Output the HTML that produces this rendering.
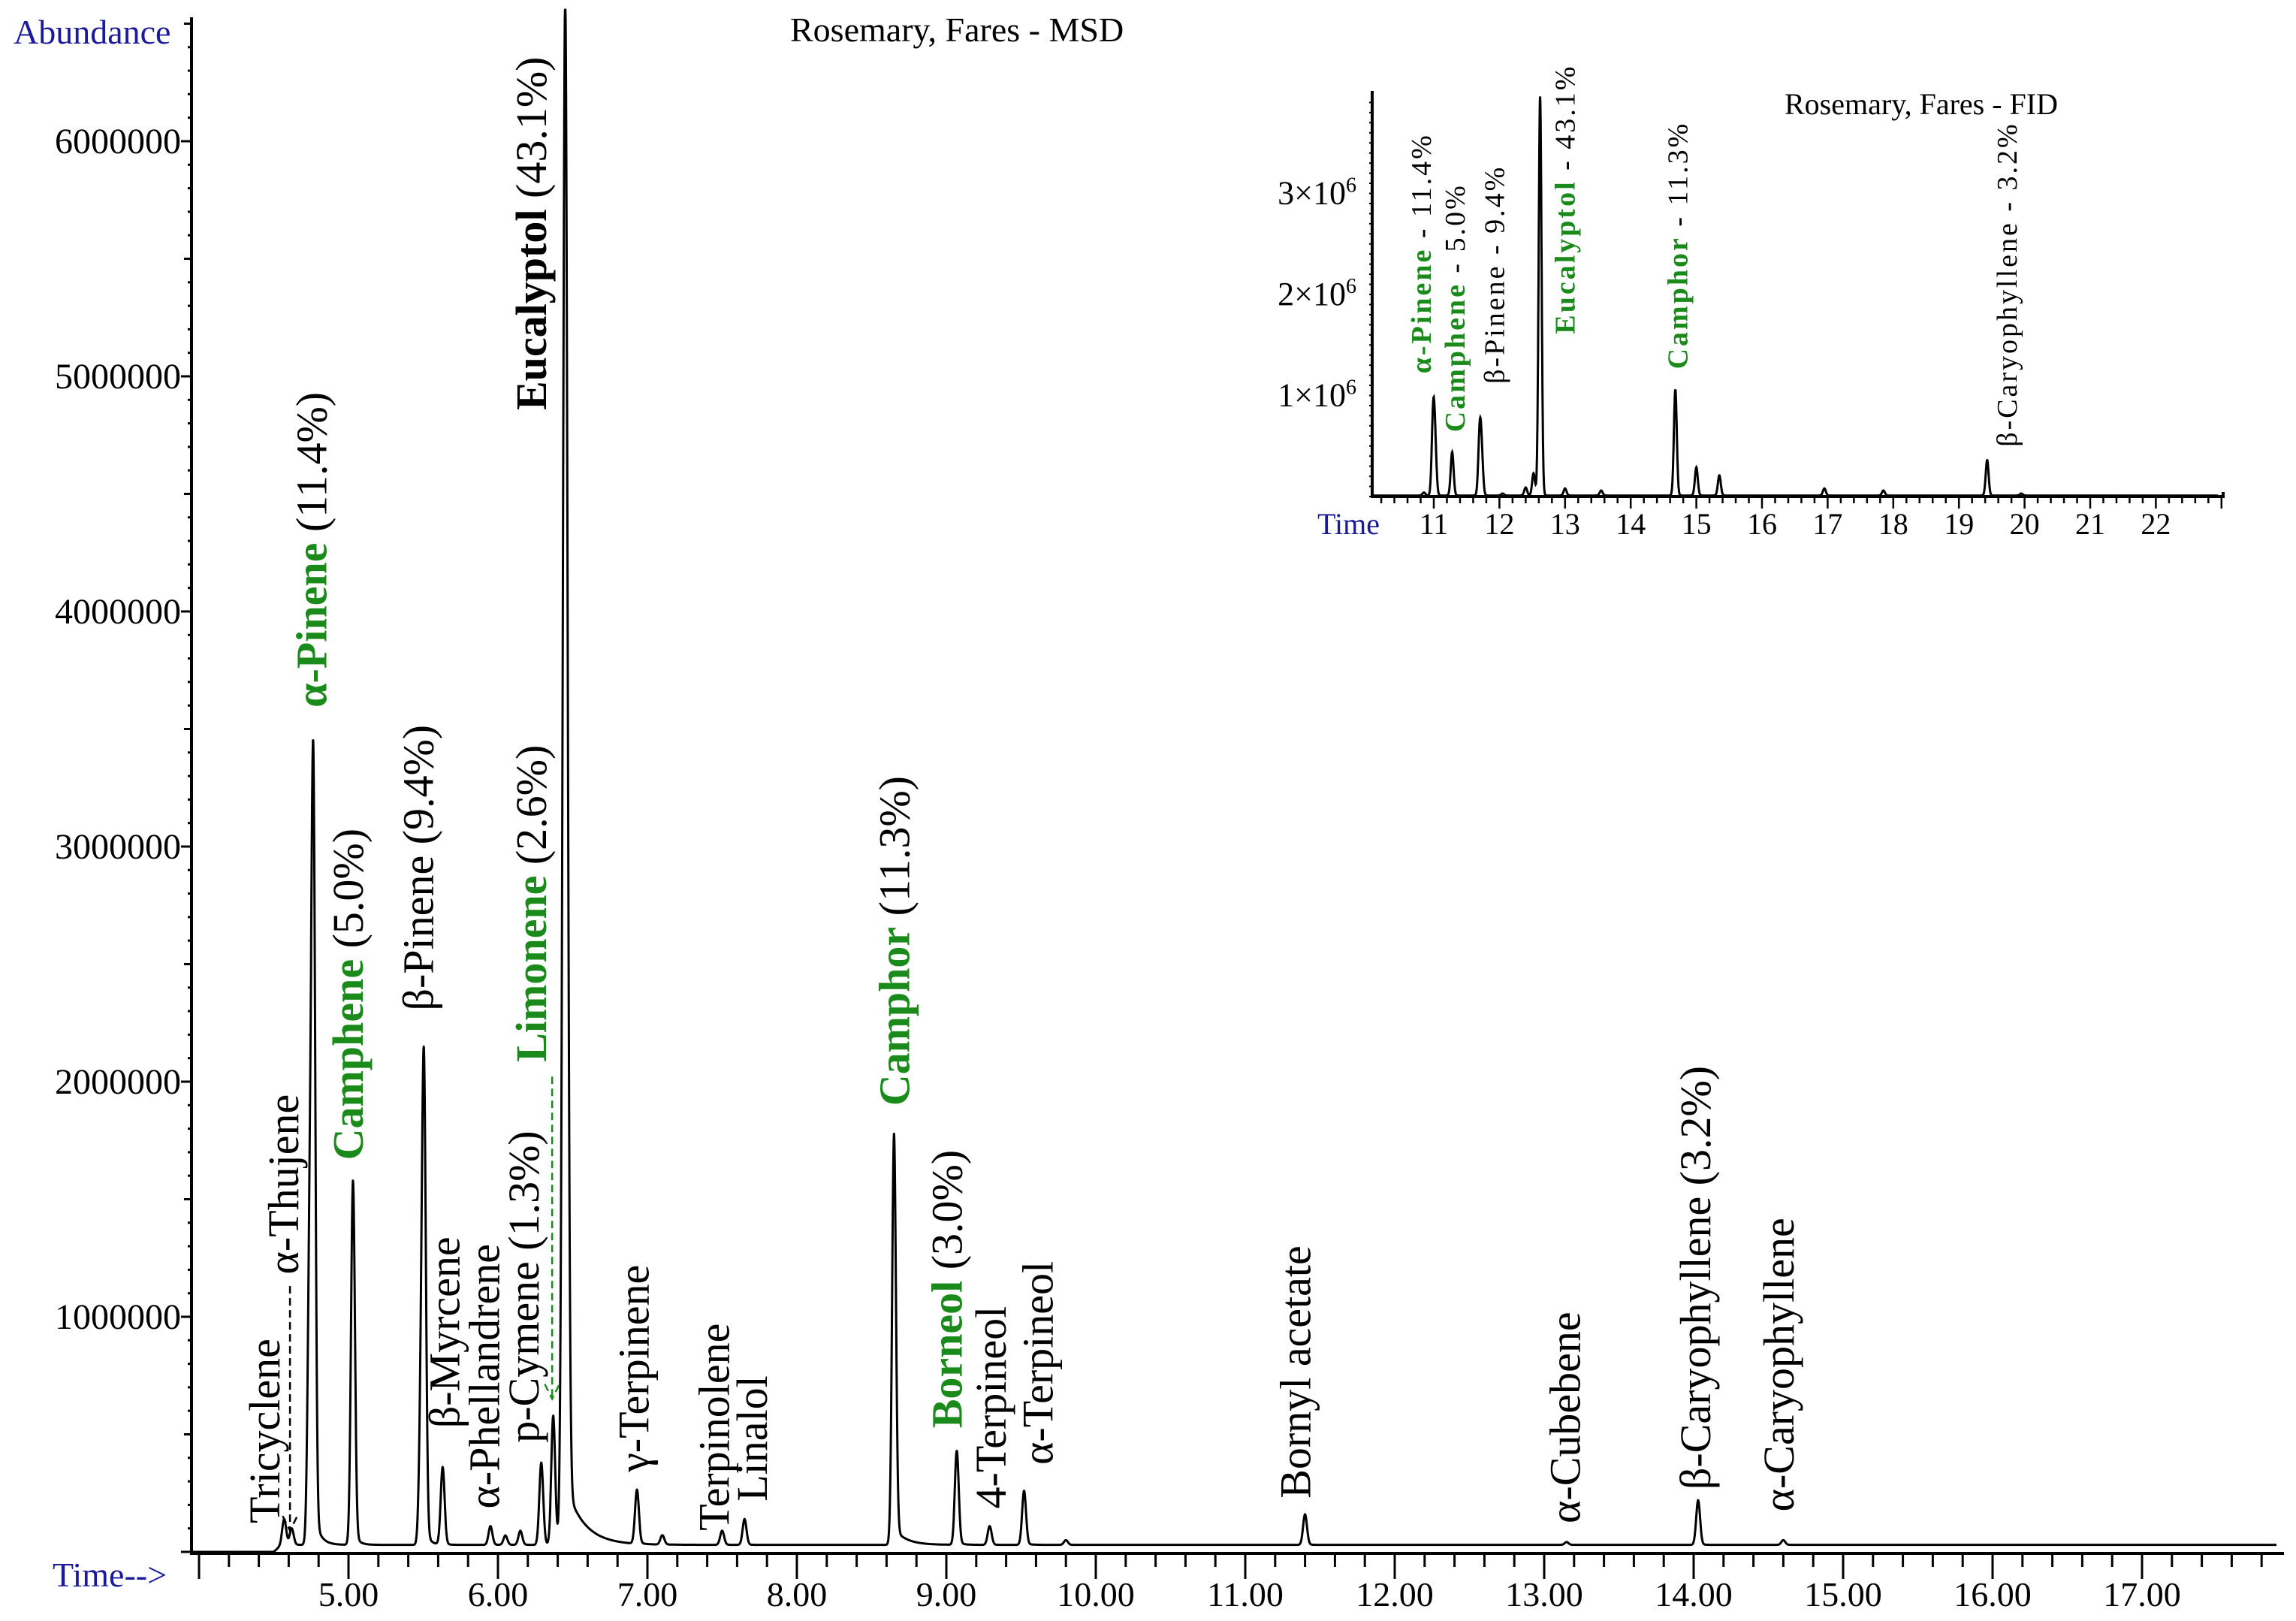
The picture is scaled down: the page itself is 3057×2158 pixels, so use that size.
<!DOCTYPE html>
<html><head><meta charset="utf-8"><style>
html,body{margin:0;padding:0;background:#fff;}
svg{display:block;font-family:"Liberation Serif",serif;}
</style></head><body>
<svg id="chart" width="3057" height="2158" viewBox="0 0 3057 2158" xmlns="http://www.w3.org/2000/svg">
<g id="main"></g>
<g id="inset"></g>
</svg>
<script>
// ---- main MSD chromatogram data ----
const peakTimes   = [4.57,4.62,4.74,4.765,5.03,5.485,5.505,5.63,5.95,6.05,6.15,6.29,6.37,6.45,6.93,7.10,7.50,7.65,8.65,9.07,9.29,9.52,9.80,11.40,13.15,14.03,14.60];
const peakHeights = [0.11,0.07,1.2,3.2,1.55,0.5,1.95,0.33,0.08,0.04,0.06,0.35,0.55,6.60,0.23,0.04,0.06,0.11,1.75,0.40,0.08,0.23,0.02,0.13,0.012,0.19,0.02]; // millions
const peakTails   = [0.02,0.02,0.03,0.04,0.03,0.02,0.03,0.02,0.02,0.02,0.02,0.02,0.02,0.12,0.03,0.05,0.02,0.02,0.08,0.03,0.02,0.03,0.02,0.02,0.02,0.02,0.02];
const yTicks = [1000000,2000000,3000000,4000000,5000000,6000000];
const xTicks = [5,6,7,8,9,10,11,12,13,14,15,16,17];
// ---- inset FID data ----
const fidTimes   = [10.85,10.99,11.02,11.28,11.70,11.73,12.05,12.40,12.52,12.62,13.00,13.55,14.68,15.00,15.35,16.95,17.85,19.43,19.95];
const fidHeights = [0.03,0.75,0.45,0.43,0.6,0.35,0.02,0.08,0.22,3.95,0.07,0.05,1.05,0.28,0.2,0.07,0.05,0.35,0.02];
const fidTicks = [11,12,13,14,15,16,17,18,19,20,21,22];
const fidYTicks = [1,2,3];

const NS="http://www.w3.org/2000/svg";
function mk(parent,tag,attrs,text){const e=document.createElementNS(NS,tag);for(const k in attrs)e.setAttribute(k,attrs[k]);if(text!==undefined)e.textContent=text;parent.appendChild(e);return e;}
const main=document.getElementById('main'), inset=document.getElementById('inset');

const X=t=>464+(t-5)*199, Y=v=>2066-v/1e6*313;
const xL=255,xR=3041,yT=23,yB=2066;
let e=mk(main,'path',{d:`M${xL},${yT}V${yB+2}H${xR}`,stroke:'#000','stroke-width':4,fill:'none'});


for(let v=0;v<=6500000;v+=100000){
  const big=v%1000000===0, mid=v%500000===0;
  mk(main,'line',{x1:xL-(big?14:mid?10:5),x2:xL,y1:Y(v),y2:Y(v),stroke:'#000','stroke-width':3});
}
yTicks.forEach(v=>{
  const t=mk(main,'text',{x:xL-14,y:Y(v)+16,'text-anchor':'end','font-size':48,fill:'#000'},String(v));
  
  
});
for(let i=0;;i++){const t=4.0+i*0.2;if(X(t)>xR)break;const big=Math.abs(t-Math.round(t))<1e-6;
  mk(main,'line',{x1:X(t),x2:X(t),y1:yB,y2:yB+(big?36:20),stroke:'#000','stroke-width':3});}
xTicks.forEach(v=>{
  const t=mk(main,'text',{x:X(v),y:2138,'text-anchor':'middle','font-size':46},v.toFixed(2));
  
  
});
e=mk(main,'text',{x:18,y:58,'font-size':46,fill:'#1a1a9a'},'Abundance');


e=mk(main,'text',{x:70,y:2112,'font-size':46,fill:'#1a1a9a'},'Time-->');


e=mk(main,'text',{x:1052,y:55,'font-size':46},'Rosemary, Fares - MSD');



function sig(t){
  let v = t<4.5?0:0.03*Math.min(1,(t-4.5)/0.05);
  for(let i=0;i<peakTimes.length;i++){
    const d=t-peakTimes[i], w=(i===13?0.016:0.013);
    if(d<0) v+=peakHeights[i]*Math.exp(-d*d/(2*w*w));
    else v+=peakHeights[i]*(0.96*Math.exp(-d*d/(2*w*w))+0.04*Math.exp(-d/peakTails[i]));
  }
  return v*1e6;
}
let d='';
for(let t=3.96;t<=17.9;t+=0.0015){const yy=Math.max(yT-10,Y(sig(t)));d+=(d?'L':'M')+X(t).toFixed(1)+','+yy.toFixed(1);}
e=mk(main,'path',{d:d,stroke:'#000','stroke-width':3,fill:'none','stroke-linejoin':'round'});



const S=1.95;
function vlabel(g,cx,bottom,parts,fs,name,ls){
  const t=mk(g,'text',{transform:`translate(${(cx*S+fs*0.36).toFixed(1)},${(bottom*S).toFixed(1)}) rotate(-90)`,'font-size':fs,'letter-spacing':ls||0});
  
  
  parts.forEach(p=>{mk(t,'tspan',{fill:p[1]||'#000','font-weight':p[2]?'bold':'normal'},p[0]);});
}
const G='#1a8a1a';
const F=58;
vlabel(main,180,1040,[['Tricyclene']],F,'label-tricyclene');
vlabel(main,193,870,[['α-Thujene']],F,'label-alpha-thujene');
vlabel(main,237,792,[['Camphene',G,1],[' (5.0%)']],F,'label-camphene');
vlabel(main,212,483,[['α-Pinene',G,1],[' (11.4%)']],F,'label-alpha-pinene');
vlabel(main,285,690,[['β-Pinene (9.4%)']],F,'label-beta-pinene');
vlabel(main,303,975,[['β-Myrcene']],F,'label-beta-myrcene');
vlabel(main,330,1030,[['α-Phellandrene']],F,'label-alpha-phellandrene');
vlabel(main,357,985,[['p-Cymene (1.3%)']],F,'label-p-cymene');
vlabel(main,362,725,[['Limonene',G,1],[' (2.6%)']],F,'label-limonene');
vlabel(main,362,280,[['Eucalyptol','#000',1],[' (43.1%)']],F,'label-eucalyptol');
vlabel(main,432,1005,[['γ-Terpinene']],F,'label-gamma-terpinene');
vlabel(main,487,1045,[['Terpinolene']],F,'label-terpinolene');
vlabel(main,513,1025,[['Linalol']],F,'label-linalol');
vlabel(main,610,755,[['Camphor',G,1],[' (11.3%)']],F,'label-camphor');
vlabel(main,646,975,[['Borneol',G,1],[' (3.0%)']],F,'label-borneol');
vlabel(main,676,1030,[['4-Terpineol']],F,'label-4-terpineol');
vlabel(main,708,1000,[['α-Terpineol']],F,'label-alpha-terpineol');
vlabel(main,884,1023,[['Bornyl acetate']],F,'label-bornyl-acetate');
vlabel(main,1068,1040,[['α-Cubebene']],F,'label-alpha-cubebene');
vlabel(main,1157,1017,[['β-Caryophyllene (3.2%)']],F,'label-beta-caryophyllene');
vlabel(main,1214,1032,[['α-Caryophyllene']],F,'label-alpha-caryophyllene');
e=mk(main,'path',{d:`M${198*S},${878*S}V${1045*S}M${193*S},${1035*S}L${198*S},${1045*S}L${203*S},${1035*S}`,stroke:'#000','stroke-width':2.5,'stroke-dasharray':'10,6',fill:'none'});


e=mk(main,'path',{d:`M${377*S},${735*S}V${955*S}M${372*S},${945*S}L${377*S},${955*S}L${382*S},${945*S}`,stroke:G,'stroke-width':2.5,'stroke-dasharray':'10,6',fill:'none'});



// ---- inset ----
const XI=t=>1909+(t-11)*87.4, YI=v=>661-v*134.5;
const iL=1827,iR=2960,iT=121,iB=661;
e=mk(inset,'path',{d:`M${iL},${iT}V${iB}H${iR}V${iB-6}`,stroke:'#000','stroke-width':4,fill:'none'});


for(let v=0;v<=4;v+=0.1){mk(inset,'line',{x1:iL-4,x2:iL,y1:YI(v),y2:YI(v),stroke:'#000','stroke-width':2});}
for(let i=0;;i++){const t=10.2+i*0.2;if(XI(t)>iR)break;const big=Math.abs(t-Math.round(t))<1e-6;
  mk(inset,'line',{x1:XI(t),x2:XI(t),y1:iB,y2:iB+(big?16:9),stroke:'#000','stroke-width':2.5});}
fidTicks.forEach(v=>{
  const t=mk(inset,'text',{x:XI(v),y:711,'text-anchor':'middle','font-size':40},String(v));
  
  
});
fidYTicks.forEach(v=>{
  const t=mk(inset,'text',{x:1806,y:YI(v)+14,'text-anchor':'end','font-size':44},v+'×10');
  
  
  mk(t,'tspan',{'font-size':28,dy:-16},'6');
});
e=mk(inset,'text',{x:1754,y:711,'font-size':40,fill:'#1a1a9a'},'Time');


e=mk(inset,'text',{x:2376,y:152,'font-size':40},'Rosemary, Fares - FID');


function fsig(t){let v=0.01;for(let i=0;i<fidTimes.length;i++){const dd=t-fidTimes[i],w=0.022;v+=fidHeights[i]*Math.exp(-dd*dd/(2*w*w));}return v;}
d='';
for(let t=10.06;t<=22.95;t+=0.004){d+=(d?'L':'M')+XI(t).toFixed(1)+','+Math.max(iT,YI(fsig(t))).toFixed(1);}
e=mk(inset,'path',{d:d,stroke:'#000','stroke-width':3,fill:'none'});


vlabel(inset,970,255,[['α-Pinene',G,1],[' - 11.4%']],38,'inset-label-alpha-pinene',3);
vlabel(inset,993,295,[['Camphene',G,1],[' - 5.0%']],38,'inset-label-camphene',3);
vlabel(inset,1020,262,[['β-Pinene - 9.4%']],38,'inset-label-beta-pinene',3);
vlabel(inset,1068,228,[['Eucalyptol',G,1],[' - 43.1%']],38,'inset-label-eucalyptol',3);
vlabel(inset,1145,252,[['Camphor',G,1],[' - 11.3%']],38,'inset-label-camphor',3);
vlabel(inset,1370,305,[['β-Caryophyllene - 3.2%']],38,'inset-label-beta-caryophyllene',3);
</script>
</body></html>
